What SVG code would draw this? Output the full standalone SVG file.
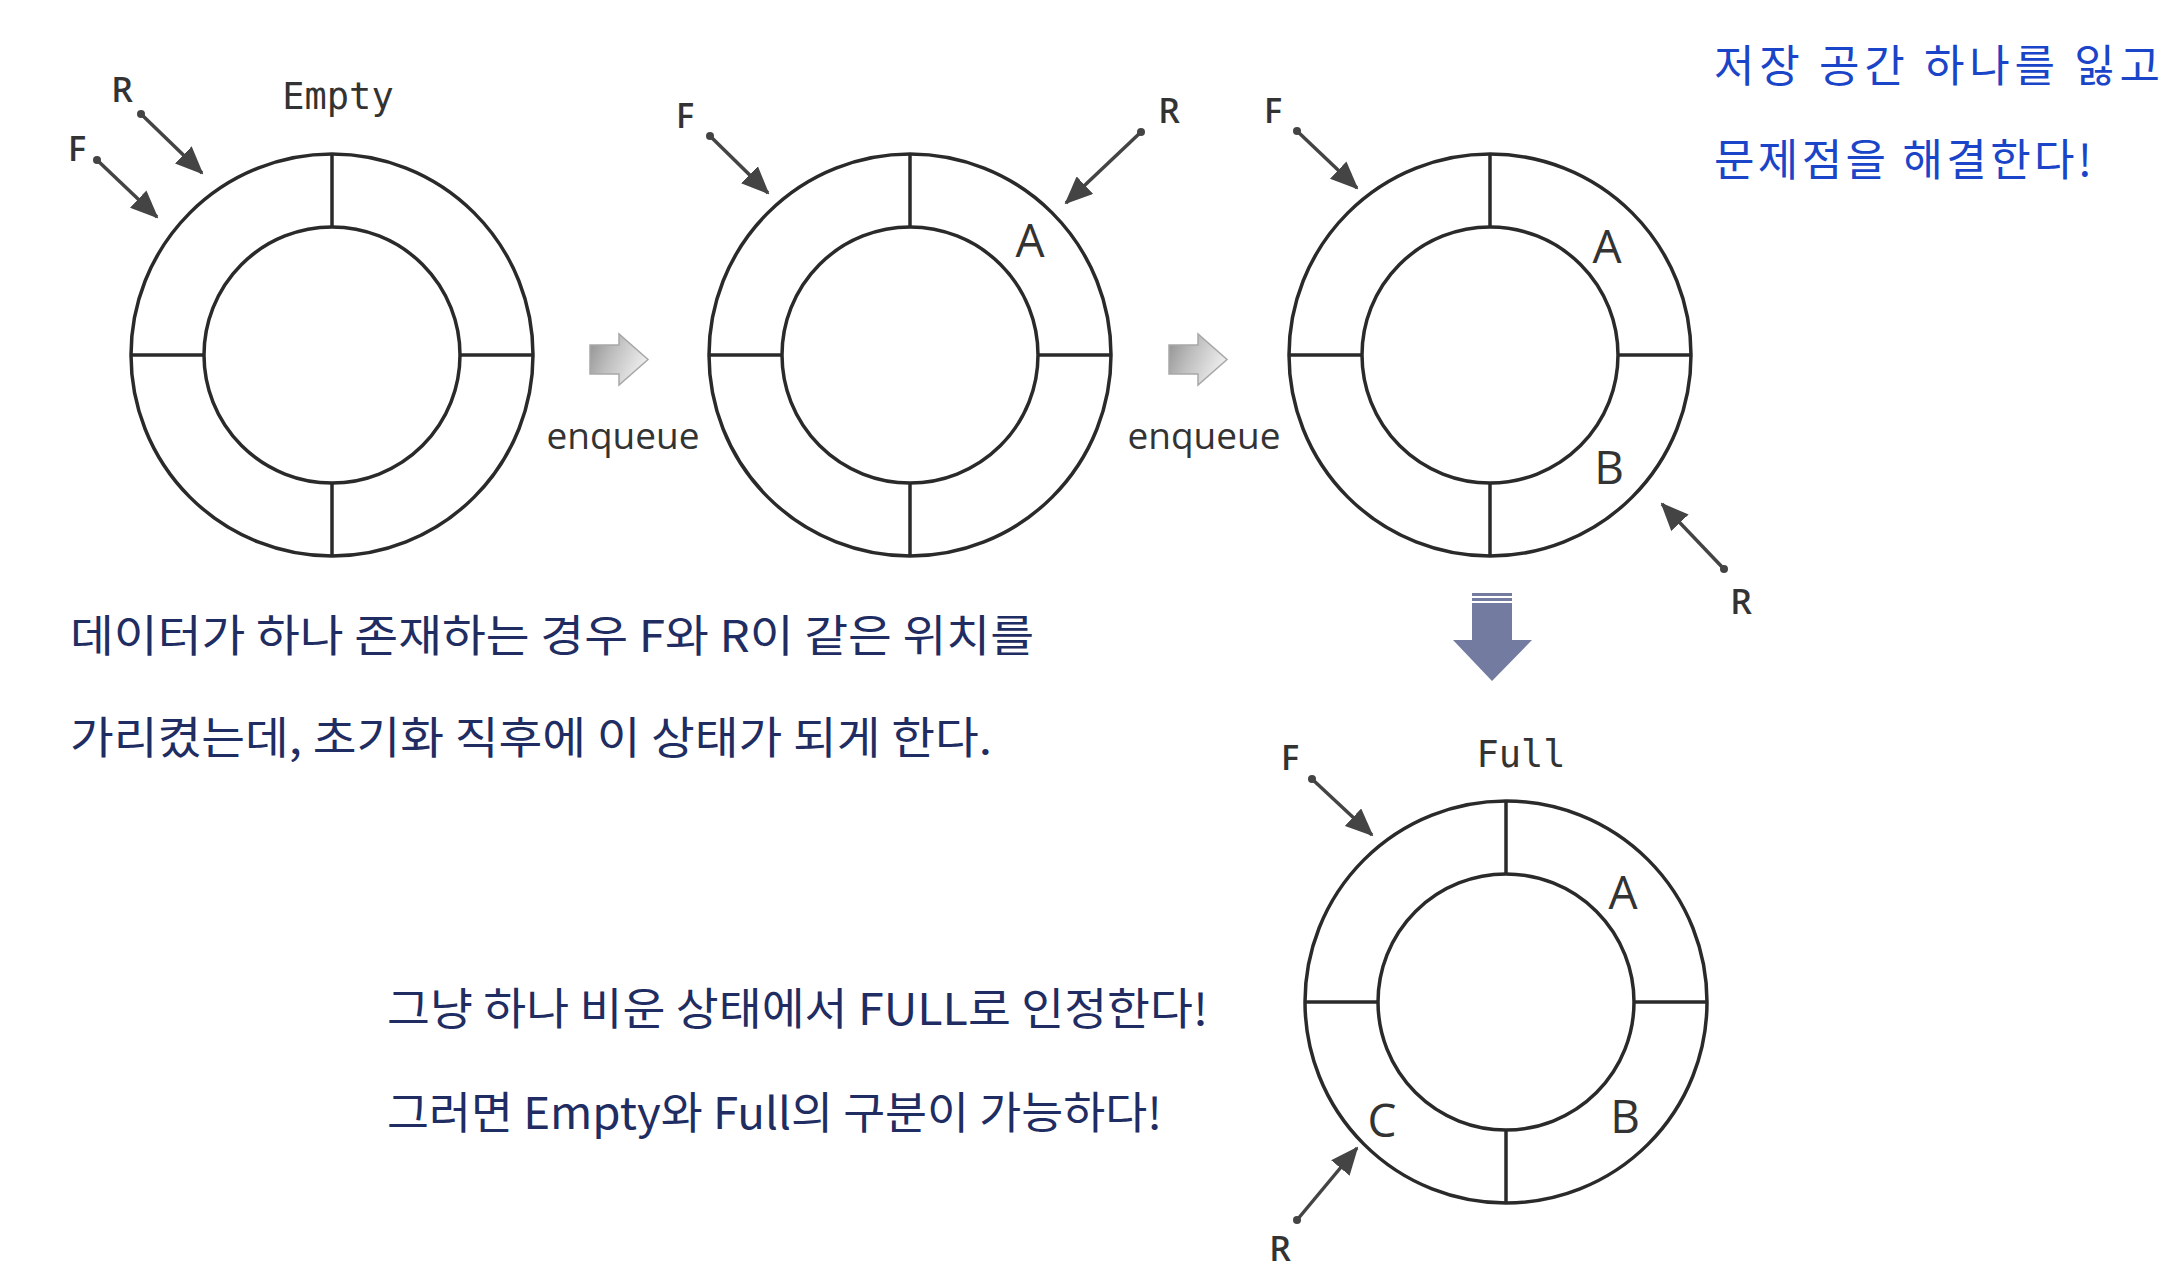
<svg xmlns="http://www.w3.org/2000/svg" width="2182" height="1288" viewBox="0 0 2182 1288">
<style>
.ring{fill:none;stroke:#2a2a2a;stroke-width:3.5}
.div{stroke:#2a2a2a;stroke-width:3.5}
.ptr{stroke:#444;stroke-width:3.5;fill:none}
.lbl{font-family:"Open Sans","Liberation Sans",sans-serif;font-size:34px;font-weight:600;fill:#333;text-anchor:middle}
.item{font-family:"Open Sans","Liberation Sans",sans-serif;font-size:46px;fill:#333;text-anchor:middle}
.mono{font-family:"DejaVu Sans Mono","Liberation Mono",monospace;font-size:37px;fill:#333;text-anchor:middle}
.enq{font-family:"Open Sans","Liberation Sans",sans-serif;font-size:37px;fill:#333;text-anchor:middle}
.note{font-family:"Noto Sans CJK KR","Noto Sans",sans-serif;font-size:44px;fill:#1f2d62}
.hand{font-family:"Noto Sans CJK KR","Noto Sans",sans-serif;font-size:44px;fill:#1a45c8}
</style>
<defs>
<marker id="ah" viewBox="0 0 28 24" refX="26" refY="12" markerWidth="28" markerHeight="24" markerUnits="userSpaceOnUse" orient="auto">
<path d="M0,0 L28,12 L0,24 z" fill="#444"/>
</marker>
<marker id="dot" viewBox="0 0 8 8" refX="4" refY="4" markerWidth="8" markerHeight="8" markerUnits="userSpaceOnUse">
<circle cx="4" cy="4" r="4" fill="#444"/>
</marker>
<linearGradient id="gg" x1="0" y1="0" x2="1" y2="0.4">
<stop offset="0" stop-color="#8f8f8f"/>
<stop offset="0.45" stop-color="#bdbdbd"/>
<stop offset="1" stop-color="#ececec"/>
</linearGradient>
<g id="ringshape">
<circle class="ring" cx="0" cy="0" r="201"/>
<circle class="ring" cx="0" cy="0" r="128"/>
<line class="div" x1="0" y1="-201" x2="0" y2="-128"/>
<line class="div" x1="0" y1="128" x2="0" y2="201"/>
<line class="div" x1="-201" y1="0" x2="-128" y2="0"/>
<line class="div" x1="128" y1="0" x2="201" y2="0"/>
</g>
<path id="garrow" d="M0,11 H29 V0 L58,25.5 L29,51 V40 H0 Z" fill="url(#gg)" stroke="#a8a8a8" stroke-width="1.5"/>
</defs>

<g id="queue-empty">
<use href="#ringshape" x="332" y="355"/>
<text class="mono" x="338" y="109">Empty</text>
<text class="lbl" x="122" y="102">R</text>
<text class="lbl" x="77" y="161">F</text>
</g>

<g id="queue-a">
<use href="#ringshape" x="910" y="355"/>
<text class="lbl" x="685" y="128">F</text>
<text class="lbl" x="1169" y="123">R</text>
<text class="item" x="1030" y="257">A</text>
</g>

<g id="queue-ab">
<use href="#ringshape" x="1490" y="355"/>
<text class="lbl" x="1273" y="123">F</text>
<text class="lbl" x="1741" y="614">R</text>
<text class="item" x="1607" y="263">A</text>
<text class="item" x="1609" y="484">B</text>
</g>

<g id="queue-full">
<use href="#ringshape" x="1506" y="1002"/>
<text class="mono" x="1521" y="767">Full</text>
<text class="lbl" x="1290" y="770">F</text>
<text class="lbl" x="1280" y="1261">R</text>
<text class="item" x="1623" y="909">A</text>
<text class="item" x="1625" y="1133">B</text>
<text class="item" x="1382" y="1137">C</text>
</g>

<g id="connectors">
<line class="ptr" x1="141" y1="114" x2="202" y2="173" marker-start="url(#dot)" marker-end="url(#ah)"/>
<line class="ptr" x1="97" y1="160" x2="157" y2="217" marker-start="url(#dot)" marker-end="url(#ah)"/>
<line class="ptr" x1="710" y1="136" x2="768" y2="193" marker-start="url(#dot)" marker-end="url(#ah)"/>
<line class="ptr" x1="1141" y1="132" x2="1066" y2="203" marker-start="url(#dot)" marker-end="url(#ah)"/>
<line class="ptr" x1="1297" y1="131" x2="1357" y2="188" marker-start="url(#dot)" marker-end="url(#ah)"/>
<line class="ptr" x1="1724" y1="569" x2="1662" y2="504" marker-start="url(#dot)" marker-end="url(#ah)"/>
<line class="ptr" x1="1312" y1="779" x2="1372" y2="835" marker-start="url(#dot)" marker-end="url(#ah)"/>
<line class="ptr" x1="1297" y1="1220" x2="1357" y2="1148" marker-start="url(#dot)" marker-end="url(#ah)"/>
<use href="#garrow" x="590" y="334"/>
<use href="#garrow" x="1169" y="334"/>
<text class="enq" x="623" y="449">enqueue</text>
<text class="enq" x="1204" y="449">enqueue</text>
<g id="down-arrow" fill="#737ca0">
<rect x="1472" y="593" width="40" height="3"/>
<rect x="1472" y="598" width="40" height="3"/>
<rect x="1472" y="603" width="40" height="38"/>
<polygon points="1453,640 1532,640 1492,681"/>
</g>
</g>

<g id="notes">
<text class="hand" x="1714" y="82" textLength="446" lengthAdjust="spacing">저장 공간 하나를 잃고</text>
<text class="hand" x="1714" y="176" textLength="378" lengthAdjust="spacing">문제점을 해결한다!</text>
<text class="note" x="70" y="652" textLength="964" lengthAdjust="spacingAndGlyphs">데이터가 하나 존재하는 경우 F와 R이 같은 위치를</text>
<text class="note" x="70" y="754" textLength="922" lengthAdjust="spacingAndGlyphs">가리켰는데, 초기화 직후에 이 상태가 되게 한다.</text>
<text class="note" x="387" y="1025" textLength="821" lengthAdjust="spacingAndGlyphs">그냥 하나 비운 상태에서 FULL로 인정한다!</text>
<text class="note" x="387" y="1129" textLength="775" lengthAdjust="spacingAndGlyphs">그러면 Empty와 Full의 구분이 가능하다!</text>
</g>
</svg>
